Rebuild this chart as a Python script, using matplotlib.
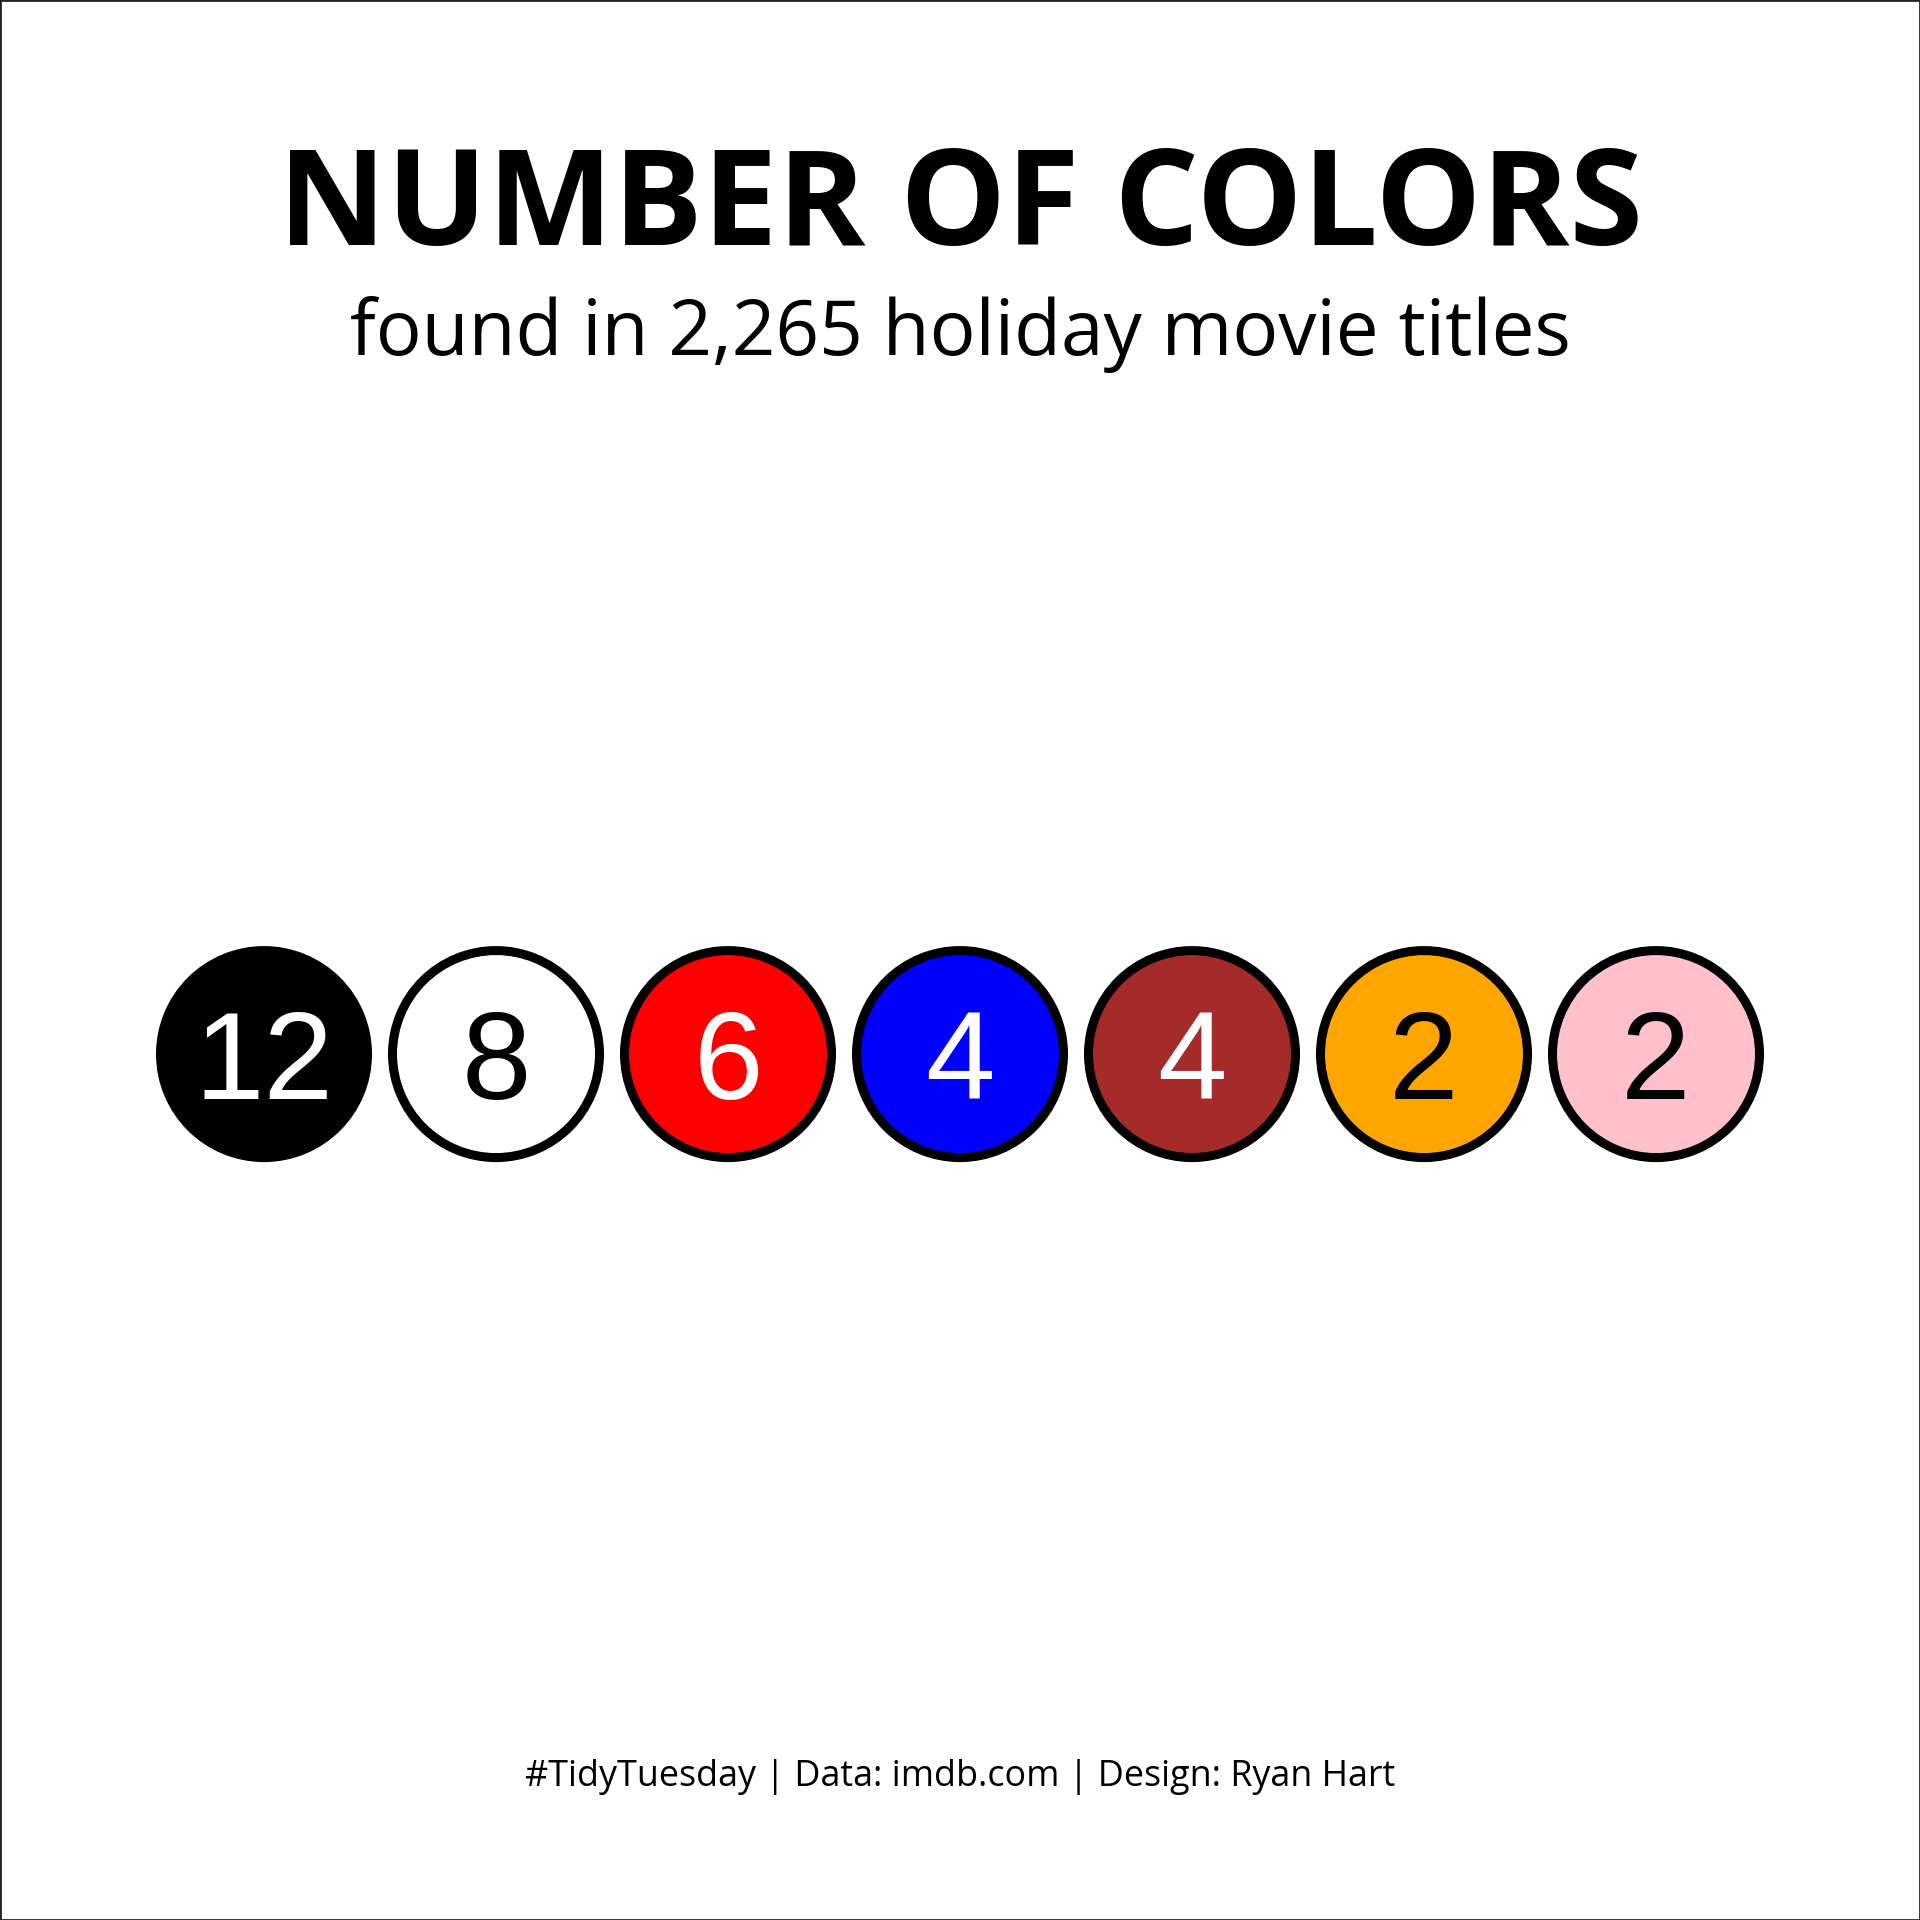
import matplotlib
matplotlib.use('Agg')
import matplotlib.pyplot as plt
from matplotlib.patches import Circle, Rectangle

# data: colour words found in holiday movie titles
colors = ['black', 'white', 'red', 'blue', 'brown', 'orange', 'pink']
counts = [12, 8, 6, 4, 4, 2, 2]
fills = ['#000000', '#FFFFFF', '#FF0000', '#0000FF', '#A52A2A', '#FFA500', '#FFC0CB']
label_colors = ['white', 'black', 'white', 'white', 'white', 'black', 'black']

title = 'NUMBER OF COLORS'
subtitle = 'found in 2,265 holiday movie titles'
caption = '#TidyTuesday | Data: imdb.com | Design: Ryan Hart'

fig = plt.figure(figsize=(19.2, 19.2), dpi=100)
fig.patch.set_facecolor('white')

# axes spans whole figure, one unit = spacing between circles
ax = fig.add_axes([0, 0, 1, 1])
span = 1920 / 232.0
ax.set_xlim(3 - span / 2, 3 + span / 2)
ax.set_ylim(-0.451 * span, 0.549 * span)
ax.set_aspect('equal')
ax.axis('off')

for i, (c, n) in enumerate(zip(colors, counts)):
	circ = Circle((i, 0), 103.5 / 232.0, facecolor=fills[i], edgecolor='black', linewidth=6.5)
	ax.add_patch(circ)
	ax.text(i, -0.192, str(n), ha='center', va='baseline', fontsize=90,
		family='Liberation Sans', color=label_colors[i])

# titles
fig.text(0.5, 1 - 245 / 1920, title, ha='center', va='baseline', fontsize=96,
	family='Open Sans', fontweight='bold')
fig.text(0.5, 1 - 355 / 1920, subtitle, ha='center', va='baseline', fontsize=55,
	family='Open Sans')
fig.text(0.5, 1 - 1786 / 1920, caption, ha='center', va='baseline', fontsize=25.8,
	family='Open Sans')

# frame around the figure
fig.add_artist(Rectangle((0, 0), 1, 1, transform=fig.transFigure, fill=False,
	edgecolor='#222222', linewidth=2))

plt.savefig('out.png', dpi=100)
